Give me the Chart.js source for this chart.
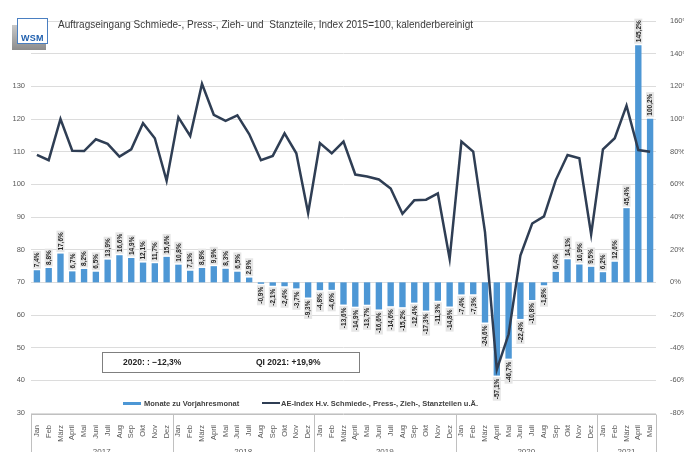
<!DOCTYPE html>
<html>
<head>
<meta charset="utf-8">
<script src="https://cdn.jsdelivr.net/npm/chart.js@4.4.1/dist/chart.umd.min.js"></script>
<style>
  body { margin: 0; background: #fff; font-family: "Liberation Sans", Arial, sans-serif; }
  #wrap { position: relative; width: 684px; height: 452px; overflow: hidden; }
  canvas { position: absolute; left: 0; top: 0; }
  .abs { position: absolute; white-space: nowrap; }
  #logoShadow { left: 12px; top: 25px; width: 34px; height: 25px; background: linear-gradient(#c8c8c8, #8c8c8c); }
  #logoBox { left: 17px; top: 18px; width: 31px; height: 26px; background: #fff; border: 1px solid #4a7fc1; box-sizing: border-box; }
  #logoText { left: 21px; top: 33px; font-size: 9px; font-weight: bold; color: #1f5fae; letter-spacing: 0.2px; }
  #title { left: 58px; top: 19px; font-size: 10px; color: #3a3a3a; }
  #box { left: 102px; top: 352px; width: 258px; height: 21px; border: 1px solid #7f7f7f; box-sizing: border-box; background: #fff; font-size: 8.5px; font-weight: bold; color: #222; }
  #box span { position: absolute; top: 4px; }
  .legSw { height: 3px; }
  .legTx { font-size: 7.5px; font-weight: bold; color: #404040; }
</style>
</head>
<body>
<div id="wrap">
  <canvas id="chart" width="684" height="452"></canvas>
  <div id="logoShadow" class="abs"></div>
  <div id="logoBox" class="abs"></div>
  <div id="logoText" class="abs">WSM</div>
  <div id="title" class="abs">Auftragseingang Schmiede-, Press-, Zieh- und&nbsp; Stanzteile, Index 2015=100, kalenderbereinigt</div>
  <div id="box" class="abs"><span style="left:20px">2020: : −12,3%</span><span style="left:153px">QI 2021: +19,9%</span></div>
  <div class="abs legSw" style="left:123px;top:402px;width:18px;background:#4d97d5"></div>
  <div class="abs legTx" style="left:144px;top:399px">Monate zu Vorjahresmonat</div>
  <div class="abs legSw" style="left:262px;top:402px;width:18px;height:2px;background:#2f3e54"></div>
  <div class="abs legTx" style="left:281px;top:399px">AE-Index H.v. Schmiede-, Press-, Zieh-, Stanzteilen u.Ä.</div>
</div>
<script>
const months = ['Jan', 'Feb', 'März', 'April', 'Mai', 'Juni', 'Juli', 'Aug', 'Sep', 'Okt', 'Nov', 'Dez'];
const years = ['2017', '2018', '2019', '2020', '2021'];
const monthsPerYear = [12, 12, 12, 12, 5];
const categories = [...months, ...months, ...months, ...months, ...months.slice(0, 5)];

// Veraenderung zum Vorjahresmonat in %
const changeValues = [
    7.4, 8.8, 17.6, 6.7, 8.2, 6.5, 13.9, 16.6, 14.9, 12.1, 11.7, 15.6,
    10.8, 7.1, 8.8, 9.9, 8.3, 6.5, 2.9, -0.9, -2.1, -2.4, -3.7, -9.3,
    -4.8, -4.6, -13.6, -14.9, -13.7, -16.6, -14.6, -15.2, -12.4, -17.3, -11.3, -14.8,
    -7.4, -7.3, -24.6, -57.1, -46.7, -22.4, -10.8, -1.8, 6.4, 14.1, 10.9, 9.5,
    6.2, 12.6, 45.4, 145.2, 100.2
];
// AE-Index, 2015=100
const indexValues = [
    109.0, 107.4, 120.0, 110.3, 110.2, 113.8, 112.4, 108.5, 110.7, 118.7, 114.1, 101.1,
    120.5, 114.8, 130.8, 121.3, 119.4, 121.1, 115.4, 107.4, 108.7, 115.6, 109.5, 91.2,
    112.6, 109.5, 113.1, 103.0, 102.4, 101.5, 98.7, 91.0, 95.1, 95.3, 97.2, 77.2,
    113.1, 110.0, 85.4, 43.3, 54.1, 78.2, 88.0, 90.2, 101.3, 109.0, 108.0, 84.7,
    110.7, 114.1, 124.1, 110.5, 110.0
];

Chart.defaults.font.family = '"Liberation Sans", Arial, sans-serif';

// Werte-Beschriftung der Balken (gedreht, grau hinterlegt)
const barLabels = {
    id: 'barLabels',
    afterDatasetsDraw(chart) {
        const ctx = chart.ctx;
        const meta = chart.getDatasetMeta(0);
        ctx.save();
        ctx.font = 'bold 6.5px "Liberation Sans", Arial';
        ctx.textBaseline = 'middle';
        meta.data.forEach((bar, i) => {
            const v = changeValues[i];
            const txt = v.toFixed(1).replace('.', ',') + '%';
            const w = ctx.measureText(txt).width;
            ctx.save();
            ctx.translate(bar.x, v >= 0 ? bar.y - 3 : bar.y + 3);
            ctx.rotate(-Math.PI / 2);
            const x0 = v >= 0 ? 0 : -w;
            ctx.fillStyle = '#e6e6e6';
            ctx.fillRect(x0 - 1.5, -4, w + 3, 8);
            ctx.fillStyle = '#262626';
            ctx.fillText(txt, x0, 0.5);
            ctx.restore();
        });
        ctx.restore();
    }
};

// Jahresgruppen unter der x-Achse
const yearBoxes = {
    id: 'yearBoxes',
    afterDraw(chart) {
        const ctx = chart.ctx;
        const a = chart.chartArea;
        const x = chart.scales.x;
        const step = x.getPixelForValue(1) - x.getPixelForValue(0);
        ctx.save();
        ctx.strokeStyle = '#c0c0c0';
        ctx.lineWidth = 1;
        ctx.beginPath();
        ctx.moveTo(a.left, a.bottom + 1.5);
        ctx.lineTo(a.right, a.bottom + 1.5);
        let start = 0;
        ctx.font = '8px "Liberation Sans", Arial';
        ctx.fillStyle = '#595959';
        ctx.textAlign = 'center';
        ctx.textBaseline = 'top';
        const edges = [x.getPixelForValue(0) - step / 2];
        monthsPerYear.forEach((n, k) => {
            const end = start + n;
            const px = x.getPixelForValue(end - 1) + step / 2;
            edges.push(px);
            ctx.fillText(years[k], (edges[k] + px) / 2, 448);
            start = end;
        });
        edges.forEach(px => {
            ctx.moveTo(Math.round(px) + 0.5, a.bottom + 1.5);
            ctx.lineTo(Math.round(px) + 0.5, 452);
        });
        ctx.stroke();
        ctx.restore();
    }
};

const config = {
    data: {
        labels: categories,
        datasets: [{
            type: 'bar',
            label: 'Monate zu Vorjahresmonat',
            data: changeValues,
            yAxisID: 'y1',
            backgroundColor: '#4d97d5',
            categoryPercentage: 0.9,
            barPercentage: 0.6,
            order: 2
        },
        {
            type: 'line',
            label: 'AE-Index H.v. Schmiede-, Press-, Zieh-, Stanzteilen u.Ä.',
            data: indexValues,
            yAxisID: 'y',
            borderColor: '#2f3e54',
            borderWidth: 2.5,
            pointRadius: 0,
            tension: 0,
            order: 1
        }]
    },
    options: {
        responsive: false,
        animation: false,
        layout: { padding: { top: 21 } },
        plugins: {
            legend: { display: false },
            tooltip: { enabled: false }
        },
        scales: {
            x: {
                grid: { display: false },
                border: { display: false },
                ticks: {
                    autoSkip: false,
                    minRotation: 90,
                    maxRotation: 90,
                    padding: 4,
                    color: '#595959',
                    font: { size: 7.5 }
                },
                afterFit(scale) { scale.height = 39; }
            },
            y: {
                position: 'left',
                min: 30,
                max: 150,
                grid: { color: '#dcdcdc', drawTicks: false },
                border: { display: false },
                ticks: {
                    stepSize: 10,
                    padding: 6,
                    color: '#595959',
                    font: { size: 7.5 },
                    callback: v => (v <= 130 ? v : '')
                },
                afterFit(scale) { scale.width = 31; }
            },
            y1: {
                position: 'right',
                min: -80,
                max: 160,
                grid: { display: false },
                border: { display: false },
                ticks: {
                    stepSize: 20,
                    padding: 6,
                    color: '#595959',
                    font: { size: 7.5 },
                    callback: v => v + '%'
                },
                afterFit(scale) { scale.width = 28; }
            }
        }
    },
    plugins: [barLabels, yearBoxes]
};

const ctx = document.getElementById('chart').getContext('2d');
var chartMain = new Chart(ctx, config);
</script>
</body>
</html>
